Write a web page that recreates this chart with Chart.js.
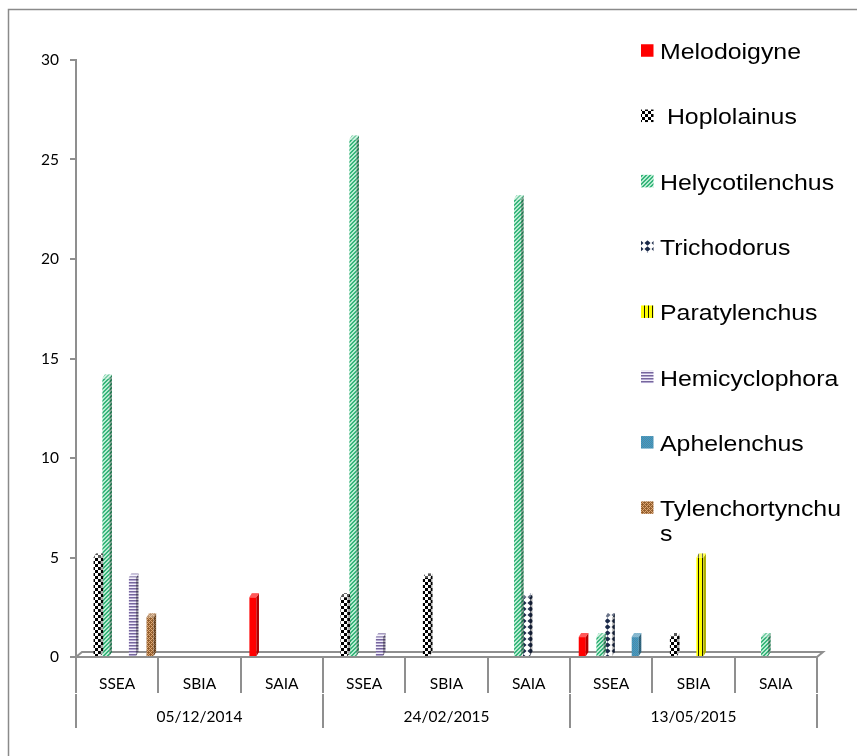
<!DOCTYPE html>
<html>
<head>
<meta charset="utf-8">
<script src="https://cdn.jsdelivr.net/npm/chart.js@4/dist/chart.umd.min.js"></script>
<style>
  html, body { margin: 0; padding: 0; background: #ffffff; }
  canvas { display: block; }
</style>
</head>
<body>
<canvas id="c" width="857" height="756"></canvas>
<script>
// Sampling sites, repeated for each sampling date
const sites = ['SSEA', 'SBIA', 'SAIA', 'SSEA', 'SBIA', 'SAIA', 'SSEA', 'SBIA', 'SAIA'];
const dates = ['05/12/2014', '24/02/2015', '13/05/2015'];

// Value axis range
const yMin = 0;
const yMax = 30;
const yStep = 5;

// Genus names as shown in the legend
const genera = ['Melodoigyne', ' Hoplolainus', 'Helycotilenchus', 'Trichodorus',
                'Paratylenchus', 'Hemicyclophora', 'Aphelenchus', 'Tylenchortynchus'];

// Counts per site (three sites x three dates)
const melodoigyne      = [0, 0, 3,  0, 0, 0,  1, 0, 0];
const hoplolainus      = [5, 0, 0,  3, 4, 0,  0, 1, 0];
const helycotilenchus  = [14, 0, 0, 26, 0, 23, 1, 0, 1];
const trichodorus      = [0, 0, 0,  0, 0, 3,  2, 0, 0];
const paratylenchus    = [0, 0, 0,  0, 0, 0,  0, 5, 0];
const hemicyclophora   = [4, 0, 0,  1, 0, 0,  0, 0, 0];
const aphelenchus      = [0, 0, 0,  0, 0, 0,  1, 0, 0];
const tylenchortynchus = [2, 0, 0,  0, 0, 0,  0, 0, 0];

const seriesValues = [melodoigyne, hoplolainus, helycotilenchus, trichodorus,
                      paratylenchus, hemicyclophora, aphelenchus, tylenchortynchus];

const AXIS = '#8f8f8f';
const canvas = document.getElementById('c');
const baseCtx = canvas.getContext('2d');

// Small tiled fills for the bars
function tile(w, h, paint) {
  const c = document.createElement('canvas');
  c.width = w; c.height = h;
  const g = c.getContext('2d');
  paint(g, w, h);
  return baseCtx.createPattern(c, 'repeat');
}
function px(g, x, y, col) { g.fillStyle = col; g.fillRect(x, y, 1, 1); }

const fills = [
  '#ff0000',
  // checkerboard
  tile(6, 6, (g) => {
    g.fillStyle = '#ffffff'; g.fillRect(0, 0, 6, 6);
    g.fillStyle = '#000000'; g.fillRect(3, 0, 3, 3); g.fillRect(0, 3, 3, 3);
  }),
  // green diagonal stripes
  tile(4, 4, (g) => {
    for (let y = 0; y < 4; y++) for (let x = 0; x < 4; x++)
      px(g, x, y, ((x + y) % 4 < 2) ? '#37b57b' : '#b9ecd2');
  }),
  // navy diamonds on white
  tile(7, 6, (g) => {
    g.fillStyle = '#ffffff'; g.fillRect(0, 0, 7, 6);
    g.fillStyle = '#1b2a4a';
    g.beginPath(); g.moveTo(3.5, 0.3); g.lineTo(6.5, 3); g.lineTo(3.5, 5.7); g.lineTo(0.5, 3); g.closePath(); g.fill();
  }),
  // yellow with black verticals
  tile(4, 1, (g) => {
    g.fillStyle = '#ffff00'; g.fillRect(0, 0, 4, 1);
    g.fillStyle = '#1a1a00'; g.fillRect(0, 0, 1, 1);
  }),
  // purple horizontal stripes
  tile(1, 3, (g) => {
    px(g, 0, 0, '#76669c'); px(g, 0, 1, '#b1a6cf'); px(g, 0, 2, '#f3f0fa');
  }),
  // steel blue fine checker
  tile(2, 2, (g) => {
    px(g, 0, 0, '#55879f'); px(g, 1, 1, '#55879f');
    px(g, 1, 0, '#3a9fce'); px(g, 0, 1, '#3a9fce');
  }),
  // brown lattice
  tile(4, 4, (g) => {
    for (let y = 0; y < 4; y++) for (let x = 0; x < 4; x++)
      px(g, x, y, ((x + y) % 4 === 0 || (x - y + 4) % 4 === 0) ? '#dca673' : '#95602f');
  })
];

// Depth of the extruded bars
const DX = 2.5, DY = 4;
const SHIFT = 2;

const datasets = genera.map((name, i) => ({
  label: name,
  data: seriesValues[i],
  backgroundColor: fills[i],
  borderWidth: 0,
  categoryPercentage: 0.858,
  barPercentage: 0.8
}));

// Floor, bar sides and caps
const depthPlugin = {
  id: 'depth',
  beforeDatasetsDraw(chart) {
    const { ctx, chartArea: a } = chart;
    ctx.save();
    ctx.strokeStyle = AXIS;
    ctx.lineWidth = 2;
    ctx.beginPath();
    ctx.moveTo(a.left, a.bottom);
    ctx.lineTo(a.right, a.bottom);
    ctx.lineTo(a.right + 6, a.bottom - 5);
    ctx.lineTo(a.left + 6, a.bottom - 5);
    ctx.closePath();
    ctx.stroke();
    ctx.restore();
    ctx.save();
    ctx.translate(SHIFT, 0);
  },
  afterDatasetsDraw(chart) {
    const ctx = chart.ctx;
    chart.data.datasets.forEach((ds, i) => {
      const meta = chart.getDatasetMeta(i);
      meta.data.forEach((el) => {
        const p = el.getProps(['x', 'y', 'base', 'width'], true);
        if (p.base - p.y < 0.5) return;
        const l = p.x - p.width / 2, r = p.x + p.width / 2;
        // side face
        ctx.beginPath();
        ctx.moveTo(r, p.y); ctx.lineTo(r + DX, p.y - DY);
        ctx.lineTo(r + DX, p.base - DY); ctx.lineTo(r, p.base); ctx.closePath();
        ctx.fillStyle = ds.backgroundColor; ctx.fill();
        ctx.fillStyle = 'rgba(0,0,0,0.32)'; ctx.fill();
        // top face
        ctx.beginPath();
        ctx.moveTo(l, p.y); ctx.lineTo(l + DX, p.y - DY);
        ctx.lineTo(r + DX, p.y - DY); ctx.lineTo(r, p.y); ctx.closePath();
        ctx.fillStyle = ds.backgroundColor; ctx.fill();
        ctx.fillStyle = 'rgba(255,255,255,0.35)'; ctx.fill();
      });
    });
    ctx.restore();
  }
};

// Outer frame
const framePlugin = {
  id: 'frame',
  beforeDraw(chart) {
    const ctx = chart.ctx;
    ctx.save();
    ctx.fillStyle = '#ffffff';
    ctx.fillRect(0, 0, chart.width, chart.height);
    ctx.strokeStyle = '#8a8a8a';
    ctx.lineWidth = 1.5;
    ctx.strokeRect(8.5, 9.5, chart.width + 20, chart.height + 20);
    ctx.restore();
  }
};

// Legend stacked over the upper right of the plot
const LEG = { markX: 641, mark: 12.5, textX: 660, top: 51, step: 65.3, maxW: 190, size: 22, sx: 1.13, lineH: 25 };
const legendPlugin = {
  id: 'sideLegend',
  afterDraw(chart) {
    const ctx = chart.ctx;
    ctx.save();
    ctx.font = LEG.size + 'px "Liberation Sans", Arial, sans-serif';
    ctx.textBaseline = 'alphabetic';
    chart.data.datasets.forEach((ds, i) => {
      const cy = LEG.top + i * LEG.step;
      ctx.fillStyle = ds.backgroundColor;
      ctx.fillRect(LEG.markX, cy - 0.5 - LEG.mark / 2, LEG.mark, LEG.mark);
      // wrap by characters when wider than the space left
      const lines = [];
      let cur = '';
      for (const ch of ds.label) {
        const t = cur + ch;
        if (cur && ctx.measureText(t).width * LEG.sx > LEG.maxW) { lines.push(cur); cur = ch; }
        else cur = t;
      }
      lines.push(cur);
      ctx.fillStyle = '#000000';
      lines.forEach((ln, k) => {
        ctx.save();
        ctx.translate(LEG.textX, cy + 8 + k * LEG.lineH);
        ctx.scale(LEG.sx, 1);
        ctx.fillText(ln, 0, 0);
        ctx.restore();
      });
    });
    ctx.restore();
  }
};

const tickFont = { family: 'Lato', size: 15.5 };

new Chart(canvas, {
  type: 'bar',
  data: { labels: sites, datasets },
  options: {
    responsive: false,
    animation: false,
    devicePixelRatio: 1,
    layout: { padding: { left: 0, top: 60, right: 40, bottom: 27 } },
    plugins: { legend: { display: false }, tooltip: { enabled: false } },
    scales: {
      x: {
        type: 'category',
        position: 'bottom',
        weight: 0,
        offset: true,
        grid: { offset: true, drawOnChartArea: false, drawTicks: true, tickLength: 36, color: AXIS, lineWidth: 2 },
        border: { display: false },
        ticks: { font: tickFont, color: '#000000', padding: -18.5, maxRotation: 0, autoSkip: false },
        afterFit: (s) => { s.height = 37; }
      },
      x2: {
        type: 'category',
        labels: dates,
        position: 'bottom',
        weight: 1,
        offset: true,
        grid: { offset: true, drawOnChartArea: false, drawTicks: true, tickLength: 34, color: AXIS, lineWidth: 2 },
        border: { display: false },
        ticks: { font: tickFont, color: '#000000', padding: -20.5, maxRotation: 0, autoSkip: false },
        afterFit: (s) => { s.height = 35; }
      },
      y: {
        min: yMin,
        max: yMax,
        ticks: { stepSize: yStep, padding: 11, font: tickFont, color: '#000000' },
        grid: { drawOnChartArea: false, drawTicks: true, tickLength: 6, color: AXIS, lineWidth: 2 },
        border: { display: true, color: AXIS, width: 2 },
        afterFit: (s) => { s.width = 76; }
      }
    }
  },
  plugins: [framePlugin, depthPlugin, legendPlugin]
});
</script>
</body>
</html>
